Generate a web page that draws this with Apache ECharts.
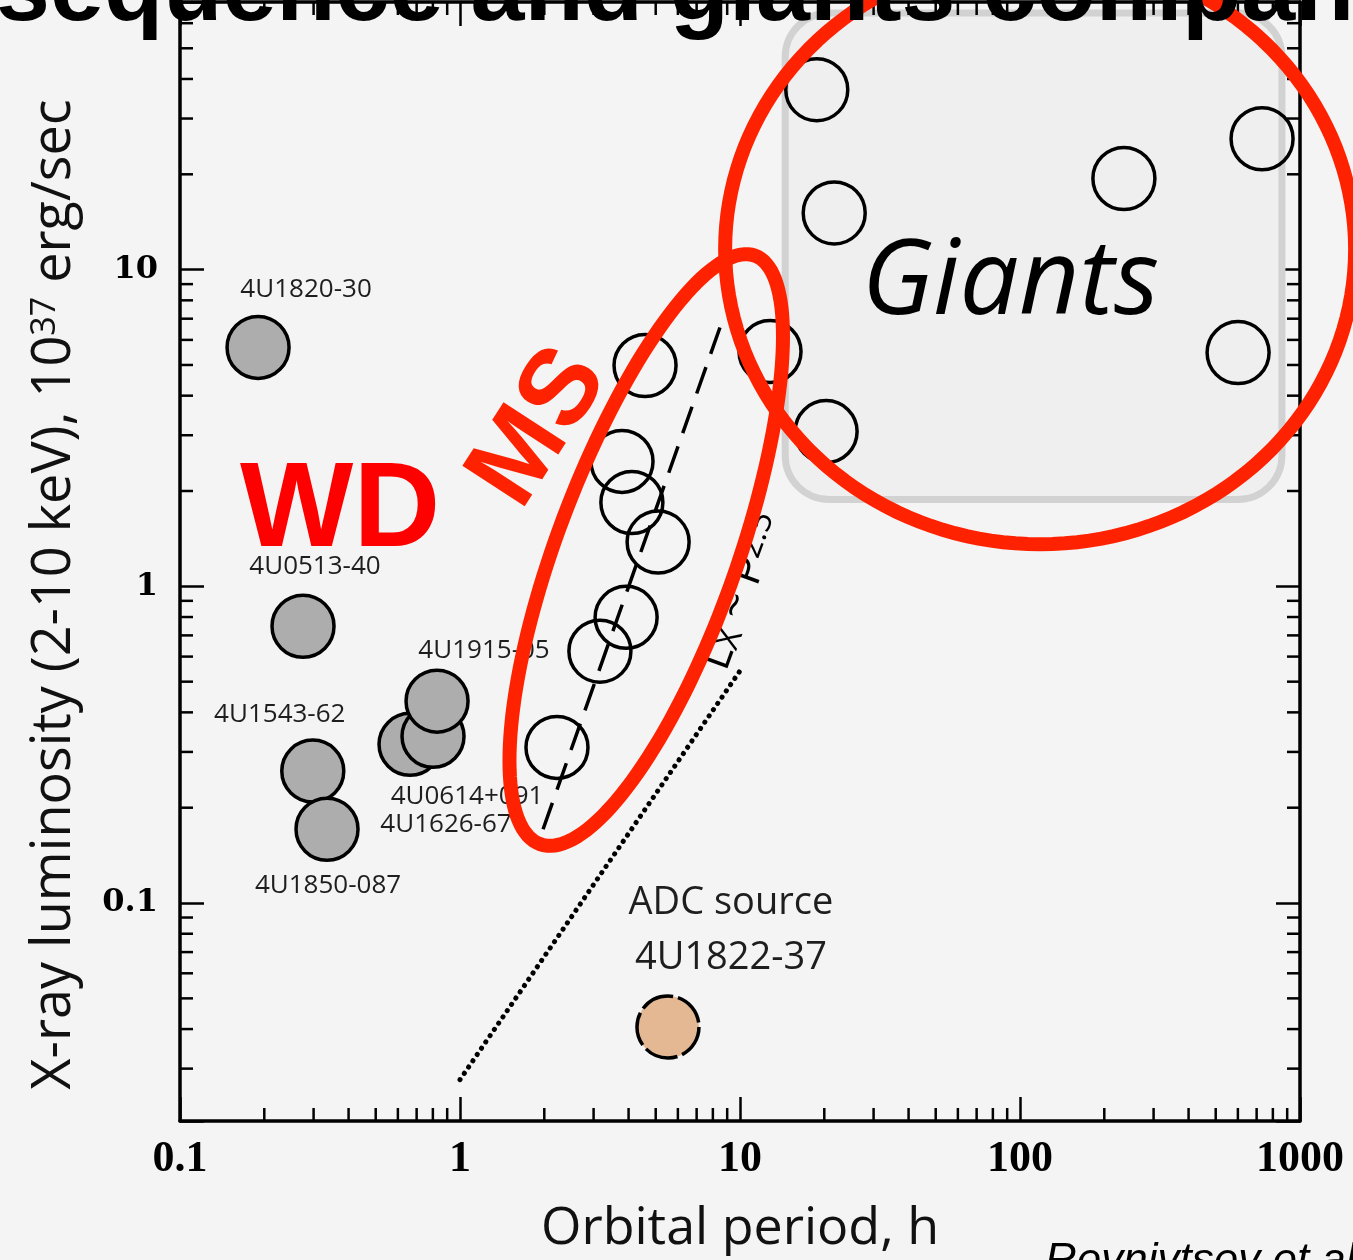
<!DOCTYPE html>
<html>
<head>
<meta charset="utf-8">
<title>Orbital period vs X-ray luminosity</title>
<script src="https://cdn.jsdelivr.net/npm/echarts@6.0.0/dist/echarts.min.js"></script>
<style>
  html, body { margin: 0; padding: 0; background: #f4f4f4; }
  #chart { width: 1353px; height: 1260px; }
</style>
</head>
<body>
<div id="chart"></div>
<script>
// ---- orbital period (hours) vs 2-10 keV luminosity (1e37 erg/s) ----
const wdNames  = ['4U1820-30', '4U0513-40', '4U1543-62', '4U1850-087', '4U1626-67', '4U0614+091', '4U1915-05'];
const wdPeriod = [0.190, 0.275, 0.298, 0.335, 0.663, 0.801, 0.828];
const wdLum    = [5.68, 0.748, 0.261, 0.171, 0.317, 0.336, 0.434];

const msPeriod = [2.22, 3.16, 3.92, 5.10, 4.11, 3.79, 4.58];
const msLum    = [0.310, 0.624, 0.798, 1.38, 1.84, 2.48, 4.98];

const giantPeriod = [12.8, 20.3, 21.7, 18.8, 235, 732, 601];
const giantLum    = [5.51, 3.08, 15.1, 37.0, 19.4, 25.9, 5.47];

const adcNames  = ['4U1822-37'];
const adcPeriod = [5.53];
const adcLum    = [0.0406];

// L_X ~ P^2.5 trend of the main-sequence systems
const msTrendPeriod = [1.98, 8.6];
const msTrendLum    = [0.171, 6.8];
// dotted reference line
const refPeriod = [1.0, 10.2];
const refLum    = [0.0277, 0.555];

// shaded region of the giant companions
const giantsBoxPeriod = [14.5, 862];
const giantsBoxLum    = [1.88, 64.6];

// hand-drawn outline round the main-sequence group: lower and upper tips
const msLoopTipPeriod = [1.93, 11.31];
const msLoopTipLum    = [0.1535, 11.07];
// centre of the outline round the giants
const giantsLoopCentre = [118, 11.6];

// annotation anchors (period, luminosity)
const noteText   = ['WD', 'MS', 'Giants', 'trend'];
const notePeriod = [0.373, 1.93, 92.5, 10.17];
const noteLum    = [1.70, 3.16, 9.00, 0.964];

const xTickLabels = ['0.1', '1', '10', '100', '1000'];
const yTickLabels = ['0.1', '1', '10'];
const minorMultipliers = [2, 3, 4, 5, 6, 7, 8, 9];

const X_MIN = 0.1, X_MAX = 1000, Y_MIN = 0.0205, Y_MAX = 70;

// ---- styling ----
const RED = '#ff2200';
const labelFont = 'Open Sans';
const wdLabelOffset = {
  '4U1820-30': [48, -58], '4U0513-40': [12, -60], '4U1543-62': [-33, -56],
  '4U1850-087': [1, 56], '4U1915-05': [47, -51], '4U0614+091': [34, 60], '4U1626-67': [36, 80]
};
const noteStyle = {
  'WD':     { rot: 0,  style: { fill: '#ff0000', fontSize: 120, fontWeight: 'bold', fontFamily: 'Liberation Sans' } },
  'MS':     { rot: 57, style: { fill: RED, fontSize: 108, fontWeight: 'bold', fontFamily: 'Liberation Sans' } },
  'Giants': { rot: 0,  style: { fill: '#000', fontSize: 105, fontStyle: 'italic', fontFamily: 'Open Sans' } },
  'trend':  { rot: 70, style: {
      fill: '#000', fontSize: 44, fontFamily: 'Open Sans', text: 'L{sub|X} ~ P{sup|2.5}',
      rich: {
        sub: { fontSize: 33, fontFamily: 'Open Sans', fill: '#000', verticalAlign: 'bottom' },
        sup: { fontSize: 33, fontFamily: 'Open Sans', fill: '#000', verticalAlign: 'top' }
      } } }
};

function tickText(v, allowed) {
  const s = String(Number(Number(v).toPrecision(6)));
  return allowed.indexOf(s) >= 0 ? s : '';
}

function zip(xs, ys) { return xs.map((x, i) => [x, ys[i]]); }

const chart = echarts.init(document.getElementById('chart'), null, { renderer: 'canvas' });

const axisLineStyle = { color: '#000', width: 3.5 };
const majorTick = { show: true, inside: true, length: 24, lineStyle: { color: '#000', width: 2.5 } };

function renderMinorTicks(params, api) {
  const len = 13;
  const style = { stroke: '#000', lineWidth: 2.5 };
  const children = [];
  [0.1, 1, 10, 100].forEach(d => minorMultipliers.forEach(m => {
    const v = d * m;
    const b = api.coord([v, Y_MIN]);
    const t = api.coord([v, Y_MAX]);
    children.push({ type: 'line', shape: { x1: b[0], y1: b[1], x2: b[0], y2: b[1] - len }, style });
    children.push({ type: 'line', shape: { x1: t[0], y1: t[1], x2: t[0], y2: t[1] + len }, style });
  }));
  [0.01, 0.1, 1, 10].forEach(d => minorMultipliers.forEach(m => {
    const v = d * m;
    if (v <= Y_MIN || v >= Y_MAX) return;
    const l = api.coord([X_MIN, v]);
    const r = api.coord([X_MAX, v]);
    children.push({ type: 'line', shape: { x1: l[0], y1: l[1], x2: l[0] + len, y2: l[1] }, style });
    children.push({ type: 'line', shape: { x1: r[0], y1: r[1], x2: r[0] - len, y2: r[1] }, style });
  }));
  return { type: 'group', children };
}

function renderGiantsBox(params, api) {
  const a = api.coord([api.value(0), api.value(1)]);
  const b = api.coord([api.value(2), api.value(3)]);
  return {
    type: 'rect',
    shape: { x: a[0], y: b[1], width: b[0] - a[0], height: a[1] - b[1], r: 44 },
    style: { fill: '#efefef', stroke: '#d2d2d2', lineWidth: 7 }
  };
}

function renderNotes(params, api) {
  const p = api.coord([api.value(0), api.value(1)]);
  const key = noteText[params.dataIndex];
  const cfg = noteStyle[key];
  const style = Object.assign({ text: key, align: 'center', verticalAlign: 'middle' }, cfg.style);
  return { type: 'text', x: p[0], y: p[1], rotation: cfg.rot * Math.PI / 180, style };
}

function renderLoops(params, api) {
  // egg-shaped outline between two tips, a little fuller at the lower end
  const lo = api.coord([msLoopTipPeriod[0], msLoopTipLum[0]]);
  const hi = api.coord([msLoopTipPeriod[1], msLoopTipLum[1]]);
  const cx = (lo[0] + hi[0]) / 2, cy = (lo[1] + hi[1]) / 2;
  const dx = hi[0] - cx, dy = hi[1] - cy;
  const a = Math.hypot(dx, dy);
  const ux = dx / a, uy = dy / a;
  const vx = -uy, vy = ux;
  const halfWidth = 90, taper = 0.03;
  const ms = [];
  for (let k = 0; k < 160; k++) {
    const t = k / 160 * Math.PI * 2;
    const b = halfWidth * (1 - taper * Math.cos(t));
    ms.push([cx + a * Math.cos(t) * ux + b * Math.sin(t) * vx,
             cy + a * Math.cos(t) * uy + b * Math.sin(t) * vy]);
  }
  const c = api.coord(giantsLoopCentre);
  const ring = [];
  for (let k = 0; k < 160; k++) {
    const t = k / 160 * Math.PI * 2;
    ring.push([c[0] + 315 * Math.cos(t), c[1] + 295 * Math.sin(t)]);
  }
  const style = { fill: 'none', stroke: RED, lineWidth: 14 };
  return {
    type: 'group',
    children: [
      { type: 'polygon', shape: { points: ms }, style },
      { type: 'polygon', shape: { points: ring }, style }
    ]
  };
}

const option = {
  backgroundColor: '#f4f4f4',
  animation: false,
  title: [
    { text: 'sequence and giants companions', left: -9, top: -60,
      textStyle: { fontFamily: 'Liberation Sans', fontWeight: 'bold', fontSize: 97, color: '#000' } },
    { text: 'Revnivtsev et al. 2011', left: 1040, top: 1235,
      textStyle: { fontFamily: 'Liberation Sans', fontStyle: 'italic', fontWeight: 'normal', fontSize: 44, color: '#000' } }
  ],
  grid: { left: 180, right: 53, top: 2, bottom: 138 },
  xAxis: [
    {
      type: 'log', logBase: 10, min: X_MIN, max: X_MAX, position: 'bottom',
      name: 'Orbital period, h', nameLocation: 'middle', nameGap: 82,
      nameTextStyle: { fontFamily: labelFont, fontSize: 52, color: '#111' },
      axisLine: { show: true, onZero: false, lineStyle: axisLineStyle },
      axisTick: majorTick,
      axisLabel: { formatter: v => tickText(v, xTickLabels), margin: 17, color: '#000',
        fontFamily: 'Liberation Serif', fontWeight: 'bold', fontSize: 44 },
      splitLine: { show: false }
    },
    {
      type: 'log', logBase: 10, min: X_MIN, max: X_MAX, position: 'top',
      axisLine: { show: true, onZero: false, lineStyle: axisLineStyle },
      axisTick: majorTick, axisLabel: { show: false }, splitLine: { show: false }
    }
  ],
  yAxis: [
    {
      type: 'log', logBase: 10, min: Y_MIN, max: Y_MAX, position: 'left',
      name: 'X-ray luminosity (2-10 keV), 10{sup|37} erg/sec', nameLocation: 'middle', nameGap: 98, nameRotate: 90,
      nameTextStyle: { fontFamily: labelFont, fontSize: 54, color: '#111', padding: [0, 66, 0, 0],
        rich: { sup: { fontFamily: labelFont, fontSize: 34, color: '#111', verticalAlign: 'top' } } },
      axisLine: { show: true, onZero: false, lineStyle: axisLineStyle },
      axisTick: majorTick,
      axisLabel: { formatter: v => tickText(v, yTickLabels), margin: 22, color: '#000',
        fontFamily: 'DejaVu Serif', fontWeight: 'bold', fontSize: 32 },
      splitLine: { show: false }
    },
    {
      type: 'log', logBase: 10, min: Y_MIN, max: Y_MAX, position: 'right',
      axisLine: { show: true, onZero: false, lineStyle: axisLineStyle },
      axisTick: majorTick, axisLabel: { show: false }, splitLine: { show: false }
    }
  ],
  series: [
    {
      type: 'custom', name: 'giants region', z: 1, silent: true, clip: false,
      encode: { x: [0, 2], y: [1, 3] },
      data: [[giantsBoxPeriod[0], giantsBoxLum[1], giantsBoxPeriod[1], giantsBoxLum[0]]],
      renderItem: renderGiantsBox
    },
    {
      type: 'custom', name: 'minor ticks', z: 3, silent: true, clip: false,
      data: [[1, 1]], renderItem: renderMinorTicks
    },
    {
      type: 'line', name: 'MS trend', z: 2, silent: true, symbol: 'none',
      data: zip(msTrendPeriod, msTrendLum),
      lineStyle: { color: '#000', width: 3.5, type: [28, 14] }
    },
    {
      type: 'line', name: 'reference', z: 2, silent: true, symbol: 'none',
      data: zip(refPeriod, refLum),
      lineStyle: { color: '#000', width: 5, type: [0.1, 7.5], cap: 'round' }
    },
    {
      type: 'scatter', name: 'WD', z: 3, symbol: 'circle', symbolSize: 62,
      itemStyle: { color: '#adadad', borderColor: '#000', borderWidth: 3.5, opacity: 1 },
      label: { show: true, position: 'inside', formatter: '{b}', fontFamily: labelFont, fontSize: 26, color: '#1e1e1e' },
      data: wdNames.map((n, i) => ({ name: n, value: [wdPeriod[i], wdLum[i]], label: { offset: wdLabelOffset[n] } }))
    },
    {
      type: 'scatter', name: 'ADC', z: 3, symbol: 'circle', symbolSize: 62,
      itemStyle: { color: '#e3b893', borderColor: '#000', borderWidth: 3.5, borderType: [34, 5], opacity: 1 },
      label: { show: true, position: 'inside', offset: [63, -96], formatter: 'ADC source\n{b}',
        fontFamily: labelFont, fontSize: 38, lineHeight: 55, color: '#1e1e1e' },
      data: adcNames.map((n, i) => ({ name: n, value: [adcPeriod[i], adcLum[i]] }))
    },
    {
      type: 'scatter', name: 'MS', z: 3, symbol: 'circle', symbolSize: 62,
      itemStyle: { color: 'rgba(0,0,0,0)', borderColor: '#000', borderWidth: 3.5, opacity: 1 },
      data: zip(msPeriod, msLum)
    },
    {
      type: 'scatter', name: 'Giants', z: 3, symbol: 'circle', symbolSize: 62,
      itemStyle: { color: 'rgba(0,0,0,0)', borderColor: '#000', borderWidth: 3.5, opacity: 1 },
      data: zip(giantPeriod, giantLum)
    },
    {
      type: 'custom', name: 'notes', z: 4, silent: true, clip: false,
      data: zip(notePeriod, noteLum), renderItem: renderNotes
    },
    {
      type: 'custom', name: 'outlines', z: 5, silent: true, clip: false,
      data: [[1, 1]], renderItem: renderLoops
    }
  ]
};

chart.setOption(option);
</script>
</body>
</html>
